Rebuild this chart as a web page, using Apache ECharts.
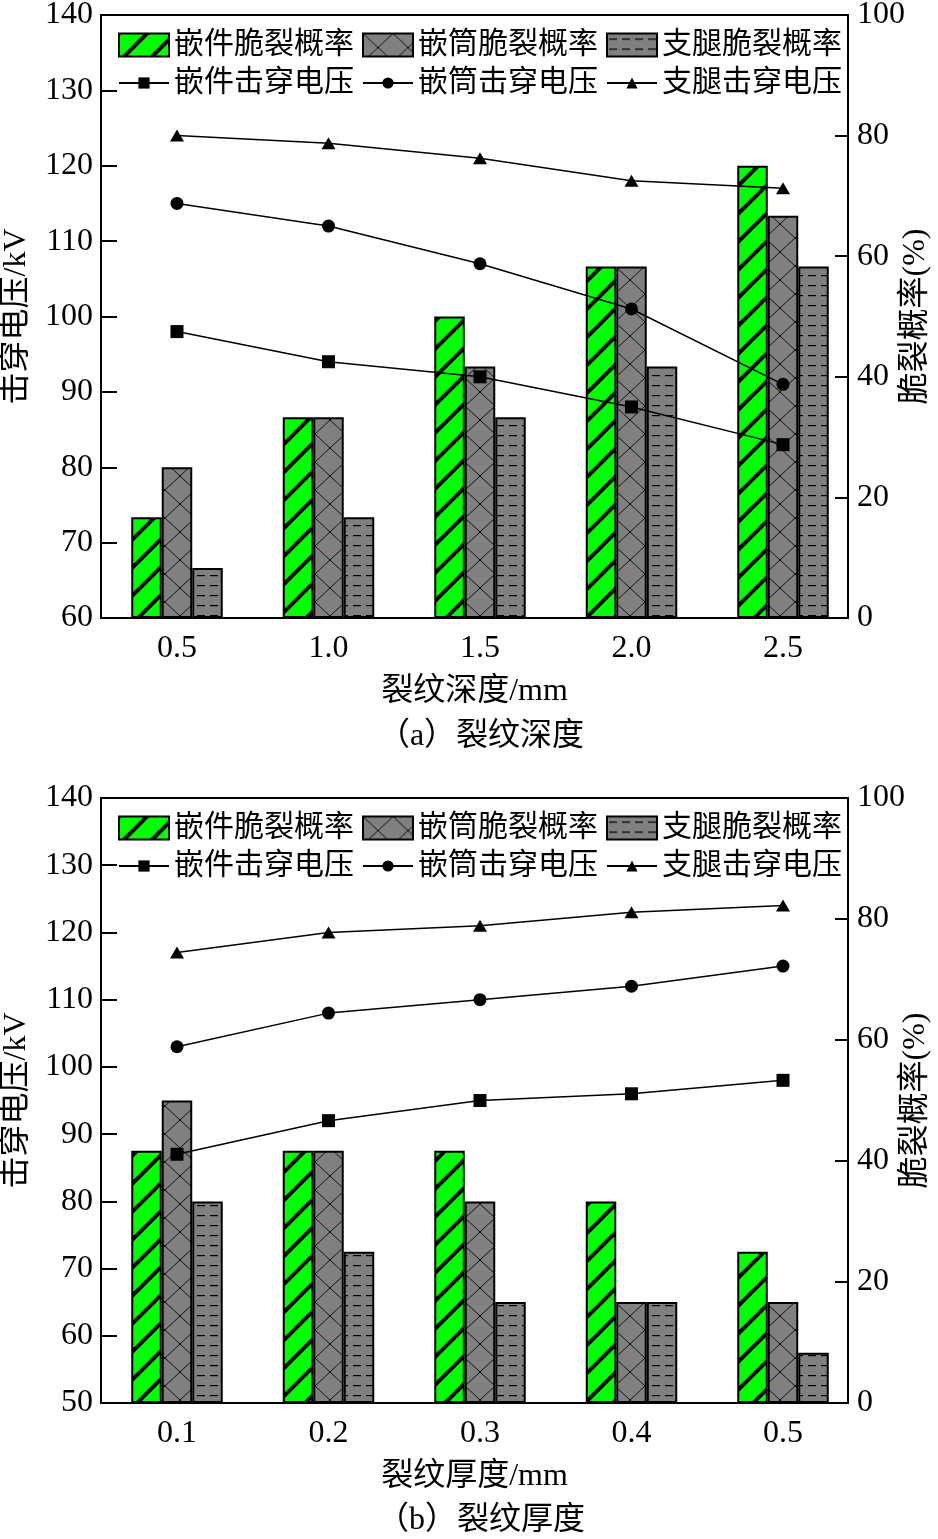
<!DOCTYPE html>
<html>
<head>
<meta charset="utf-8">
<script src="https://cdn.jsdelivr.net/npm/echarts@6/dist/echarts.min.js"></script>
<style>html,body{margin:0;padding:0;background:#fff}#c{width:938px;height:1539px}</style>
</head>
<body>
<div id="c"></div>
<script>
// ---- data ----
const depthCats = [0.5, 1.0, 1.5, 2.0, 2.5];
const thickCats = [0.1, 0.2, 0.3, 0.4, 0.5];
const seriesNames = ['嵌件脆裂概率', '嵌筒脆裂概率', '支腿脆裂概率', '嵌件击穿电压', '嵌筒击穿电压', '支腿击穿电压'];
// panel (a) crack depth
const depthInsertProb = [16.7, 33.3, 50.0, 58.3, 75.0];
const depthSleeveProb = [25.0, 33.3, 41.7, 58.3, 66.7];
const depthLegProb    = [8.3, 16.7, 33.3, 41.7, 58.3];
const depthInsertVolt = [98, 94, 92, 88, 83];
const depthSleeveVolt = [115, 112, 107, 101, 91];
const depthLegVolt    = [124, 123, 121, 118, 117];
// panel (b) crack thickness
const thickInsertProb = [41.7, 41.7, 41.7, 33.3, 25.0];
const thickSleeveProb = [50.0, 41.7, 33.3, 16.7, 16.7];
const thickLegProb    = [33.3, 25.0, 16.7, 16.7, 8.3];
const thickInsertVolt = [87, 92, 95, 96, 98];
const thickSleeveVolt = [103, 108, 110, 112, 115];
const thickLegVolt    = [117, 120, 121, 123, 124];
// axis labels
const xNames = ['裂纹深度/mm', '裂纹厚度/mm'];
const captions = ['（a）裂纹深度', '（b）裂纹厚度'];
const leftName = '击穿电压/kV';
const rightName = '脆裂概率(%)';

// ---- fill patterns ----
function makeHatch() {
  const s = 28, c = document.createElement('canvas');
  c.width = s; c.height = s;
  const g = c.getContext('2d');
  g.fillStyle = '#00ff00'; g.fillRect(0, 0, s, s);
  g.strokeStyle = '#000'; g.lineWidth = 4;
  [[-s, 2 * s, 2 * s, -s], [-s, s, s, -s], [0, 2 * s, 2 * s, 0]].forEach(l => {
    g.beginPath(); g.moveTo(l[0], l[1]); g.lineTo(l[2], l[3]); g.stroke();
  });
  return c;
}
function makeCross() {
  const w = 30, h = 28, c = document.createElement('canvas');
  c.width = w; c.height = h;
  const g = c.getContext('2d');
  g.fillStyle = '#808080'; g.fillRect(0, 0, w, h);
  g.strokeStyle = '#111'; g.lineWidth = 1;
  g.beginPath(); g.moveTo(0, 0); g.lineTo(w, h); g.stroke();
  g.beginPath(); g.moveTo(0, h); g.lineTo(w, 0); g.stroke();
  return c;
}
function makeDash() {
  const w = 13, h = 10, c = document.createElement('canvas');
  c.width = w; c.height = h;
  const g = c.getContext('2d');
  g.fillStyle = '#808080'; g.fillRect(0, 0, w, h);
  g.fillStyle = '#000'; g.fillRect(2, 5, 8, 1.2);
  return c;
}
const hatchFill = { image: makeHatch(), repeat: 'repeat' };
const crossFill = { image: makeCross(), repeat: 'repeat' };
const dashFill  = { image: makeDash(), repeat: 'repeat' };

const FONT_LAT = '"Liberation Serif", "Noto Sans CJK SC"';
const FONT_CJK = '"Liberation Serif", "Noto Sans CJK SC"';

const panels = [
  { cats: depthCats, probs: [depthInsertProb, depthSleeveProb, depthLegProb], volts: [depthInsertVolt, depthSleeveVolt, depthLegVolt], top: 15, height: 603, ymin: 60, xmin: 0.2492, xmax: 2.7145 },
  { cats: thickCats, probs: [thickInsertProb, thickSleeveProb, thickLegProb], volts: [thickInsertVolt, thickSleeveVolt, thickLegVolt], top: 798, height: 605, ymin: 50, xmin: 0.04984, xmax: 0.5429 }
];

const grids = [], xAxes = [], yAxes = [], series = [], legends = [], graphics = [];
const fills = [hatchFill, crossFill, dashFill];
const symbols = ['rect', 'circle', 'triangle'];
const symSizes = [13, 13, [14, 12]];

panels.forEach((p, i) => {
  grids.push({ left: 101, top: p.top, width: 747, height: p.height, containLabel: false, outerBoundsMode: 'none', show: true, borderColor: '#000', borderWidth: 2, backgroundColor: 'transparent' });
  xAxes.push({
    type: 'value', gridIndex: i, min: p.xmin, max: p.xmax,
    axisLine: { show: true, lineStyle: { color: '#000', width: 2 } },
    axisTick: { show: true, inside: true, length: 12, lineStyle: { color: '#000', width: 2 }, customValues: p.cats },
    axisLabel: { show: true, customValues: p.cats, formatter: v => Number(v).toFixed(1), margin: 15, color: '#000', fontSize: 32, fontFamily: FONT_LAT },
    splitLine: { show: false },
    name: xNames[i], nameLocation: 'middle', nameGap: 58, nameMoveOverlap: false,
    nameTextStyle: { color: '#000', fontSize: 32, fontFamily: FONT_CJK }
  });
  yAxes.push({
    type: 'value', gridIndex: i, position: 'left', min: p.ymin, max: 140, interval: 10,
    axisLine: { show: true, lineStyle: { color: '#000', width: 2 } },
    axisTick: { show: true, inside: true, length: 16, lineStyle: { color: '#000', width: 2 } },
    axisLabel: { margin: 8, color: '#000', fontSize: 32, fontFamily: FONT_LAT },
    splitLine: { show: false },
    name: leftName, nameLocation: 'middle', nameRotate: 90, nameGap: 68, nameMoveOverlap: false,
    nameTextStyle: { color: '#000', fontSize: 32, fontFamily: FONT_CJK }
  });
  yAxes.push({
    type: 'value', gridIndex: i, position: 'right', min: 0, max: 100, interval: 20,
    axisLine: { show: true, lineStyle: { color: '#000', width: 2 } },
    axisTick: { show: true, inside: true, length: 13, lineStyle: { color: '#000', width: 2 } },
    axisLabel: { margin: 9, color: '#000', fontSize: 32, fontFamily: FONT_LAT },
    splitLine: { show: false },
    name: rightName, nameLocation: 'middle', nameRotate: 90, nameGap: 52, nameMoveOverlap: false,
    nameTextStyle: { color: '#000', fontSize: 32, fontFamily: FONT_CJK }
  });
  p.probs.forEach((arr, k) => {
    series.push({
      type: 'bar', name: seriesNames[k], xAxisIndex: i, yAxisIndex: 2 * i + 1,
      data: p.cats.map((c, j) => [c, arr[j]]),
      barWidth: 30.5, barGap: '0%', z: 2,
      itemStyle: { color: fills[k], borderColor: '#000', borderWidth: 2 }
    });
  });
  p.volts.forEach((arr, k) => {
    series.push({
      type: 'line', name: seriesNames[3 + k], xAxisIndex: i, yAxisIndex: 2 * i,
      data: p.cats.map((c, j) => [c, arr[j]]),
      symbol: symbols[k], symbolSize: symSizes[k], z: 5,
      lineStyle: { color: '#000', width: 1.5 },
      itemStyle: { color: '#000' }
    });
  });
  legends.push({
    data: seriesNames.slice(0, 3), left: 113, top: p.top + 10, itemWidth: 50, itemHeight: 23, itemGap: 8, icon: 'rect',
    textStyle: { color: '#000', fontSize: 30, fontFamily: FONT_CJK }, selectedMode: false
  });
  legends.push({
    data: seriesNames.slice(3, 6), left: 113, top: p.top + 48, itemWidth: 50, itemHeight: 14, itemGap: 8,
    textStyle: { color: '#000', fontSize: 30, fontFamily: FONT_CJK }, selectedMode: false
  });
  graphics.push({
    type: 'text', x: 481, y: i === 0 ? 737 : 1521,
    style: { text: captions[i], textAlign: 'center', textVerticalAlign: 'middle', fill: '#000', font: '32px ' + FONT_CJK }
  });
});

const chart = echarts.init(document.getElementById('c'), null, { renderer: 'canvas' });
chart.setOption({
  backgroundColor: '#fff',
  animation: false,
  grid: grids, xAxis: xAxes, yAxis: yAxes, series: series, legend: legends, graphic: graphics
});
</script>
</body>
</html>
